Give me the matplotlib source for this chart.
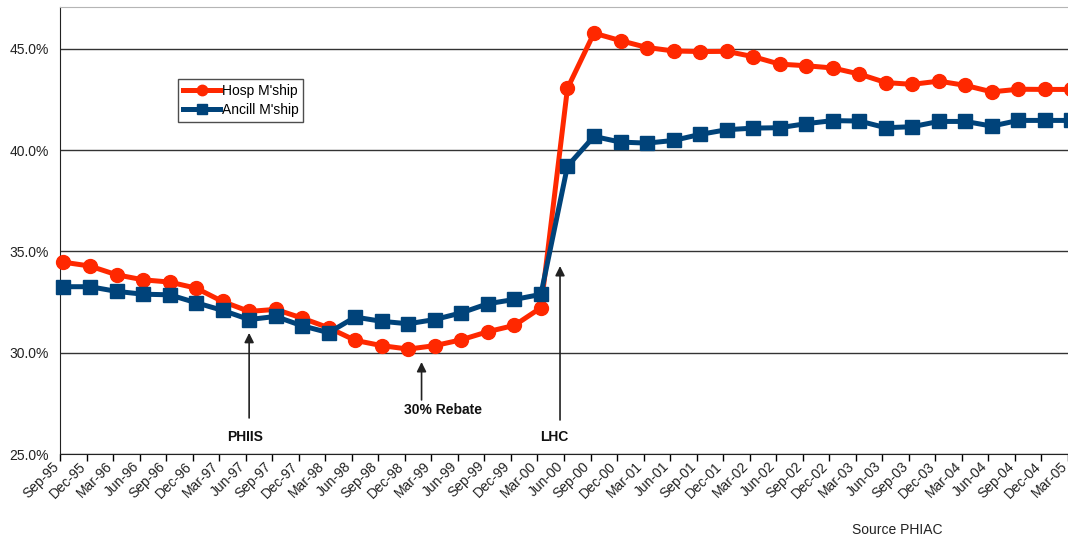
import matplotlib.pyplot as plt
from matplotlib.transforms import ScaledTranslation

plt.rcParams['font.family'] = ['Liberation Sans', 'DejaVu Sans']

# quarterly labels Sep-95 .. Mar-05
quarters = ['Sep-95', 'Dec-95', 'Mar-96', 'Jun-96', 'Sep-96', 'Dec-96', 'Mar-97', 'Jun-97',
            'Sep-97', 'Dec-97', 'Mar-98', 'Jun-98', 'Sep-98', 'Dec-98', 'Mar-99', 'Jun-99',
            'Sep-99', 'Dec-99', 'Mar-00', 'Jun-00', 'Sep-00', 'Dec-00', 'Mar-01', 'Jun-01',
            'Sep-01', 'Dec-01', 'Mar-02', 'Jun-02', 'Sep-02', 'Dec-02', 'Mar-03', 'Jun-03',
            'Sep-03', 'Dec-03', 'Mar-04', 'Jun-04', 'Sep-04', 'Dec-04', 'Mar-05']

hosp = [34.47, 34.28, 33.85, 33.60, 33.49, 33.19, 32.53, 32.04, 32.14, 31.71,
        31.23, 30.61, 30.35, 30.18, 30.35, 30.64, 31.04, 31.35, 32.22,
        43.05, 45.78, 45.41, 45.07, 44.90, 44.87, 44.88, 44.62, 44.25, 44.17,
        44.06, 43.76, 43.34, 43.25, 43.41, 43.20, 42.88, 43.01, 43.00, 43.00]

ancill = [33.26, 33.26, 33.03, 32.89, 32.86, 32.47, 32.09, 31.64, 31.79, 31.33,
          30.99, 31.76, 31.55, 31.43, 31.64, 31.97, 32.42, 32.63, 32.88,
          39.21, 40.68, 40.40, 40.35, 40.48, 40.78, 41.01, 41.09, 41.11, 41.31,
          41.46, 41.44, 41.11, 41.16, 41.42, 41.42, 41.19, 41.47, 41.47, 41.47]

# policy events: label, x (quarter index), arrow tail, arrow tip, label y
events = [('PHIIS', 7.0, 26.78, 30.98, 25.84),
          ('30% Rebate', 13.5, 27.67, 29.54, 27.17),
          ('LHC', 18.72, 26.68, 34.28, 25.84)]
event_label_dx = [-0.15, 0.8, -0.2]

RED = '#ff2800'
BLUE = '#00437a'

fig = plt.figure(figsize=(10.68, 5.42), dpi=100)
ax = fig.add_axes([60 / 1068, 1 - 454 / 542, 1008 / 1068, 447 / 542])

x = list(range(len(quarters)))
ax.plot(x, hosp, color=RED, lw=3.6, marker='o', ms=10, label="Hosp M'ship",
        clip_on=False, zorder=3)
ax.plot(x, ancill, color=BLUE, lw=3.6, marker='s', ms=10, label="Ancill M'ship",
        clip_on=False, zorder=4)

ax.set_xlim(-0.13, 37.87)
ax.set_ylim(25, 47.07)

ax.set_yticks([25, 30, 35, 40, 45])
ax.set_yticklabels(['25.0%', '30.0%', '35.0%', '40.0%', '45.0%'])
ax.tick_params(axis='y', length=0, pad=8, labelsize=10, labelcolor='#222222')
ax.yaxis.grid(True, color='#333333', lw=1)
ax.set_axisbelow(True)

ax.set_xticks([i - 0.13 for i in x])
ax.set_xticklabels(quarters, rotation=45, ha='right', rotation_mode='anchor')
ax.tick_params(axis='x', length=5, width=1, pad=3, labelsize=10, labelcolor='#222222')
# nudge the slanted labels so their ends sit under the tick marks
shift = ScaledTranslation(-8 / 100, 6 / 100, fig.dpi_scale_trans)
for lbl in ax.get_xticklabels():
    lbl.set_transform(lbl.get_transform() + shift)

ax.spines['top'].set_color('#b5b5b5')
ax.spines['right'].set_visible(False)
ax.spines['left'].set_color('#222222')
ax.spines['bottom'].set_color('#222222')

for (name, ex, tail, tip, ly), dx in zip(events, event_label_dx):
    ax.annotate('', xy=(ex, tip), xytext=(ex, tail),
                arrowprops=dict(arrowstyle='-|>', color='#222222', lw=1.2,
                                mutation_scale=14, shrinkA=0, shrinkB=0))
    ax.text(ex + dx, ly, name, ha='center', va='center', fontsize=10,
            fontweight='bold', color='#111111')

leg = ax.legend(loc='upper left', bbox_to_anchor=(0.117, 0.839), borderaxespad=0,
                fontsize=10, frameon=True, fancybox=False, handlelength=2.7,
                handletextpad=0.1, markerscale=0.75, borderpad=0.35,
                labelspacing=0.35)
leg.get_frame().set_edgecolor('#222222')
leg.get_frame().set_linewidth(1)

fig.text(897 / 1068, 1 - 530 / 542, 'Source PHIAC', ha='center', va='center',
         fontsize=10, color='#222222')

fig.savefig('out.png', dpi=100)
